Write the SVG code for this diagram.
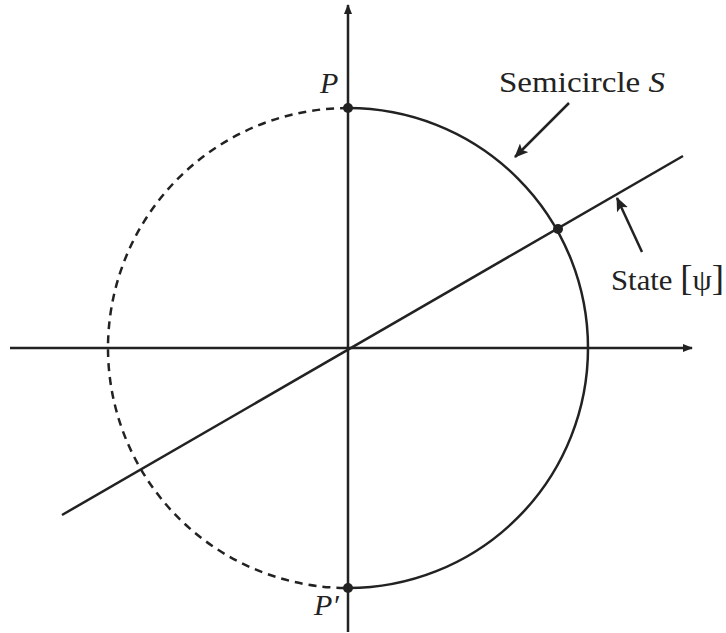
<svg xmlns="http://www.w3.org/2000/svg" width="726" height="633" viewBox="0 0 726 633">
<style>
.ln{stroke:#222;stroke-width:2.5;fill:none}
.ds{stroke:#222;stroke-width:2.5;fill:none;stroke-dasharray:8 6}
.t{font-family:"Liberation Serif",serif;font-size:30px;fill:#222}
.i{font-style:italic}
.dot{fill:#222}
</style>
<defs>
<marker id="ah" markerWidth="10" markerHeight="10" refX="9" refY="5" orient="auto" markerUnits="userSpaceOnUse" viewBox="0 0 10 10">
<path d="M0,1 L10,5 L0,9 Z" fill="#222"/>
</marker>
<marker id="ah2" markerWidth="14" markerHeight="12" refX="13" refY="6" orient="auto" markerUnits="userSpaceOnUse" viewBox="0 0 14 12">
<path d="M0,0 L14,6 L0,12 L3,6 Z" fill="#222"/>
</marker>
</defs>
<g id="connectors">
<line class="ln" x1="348" y1="632" x2="348" y2="5" marker-end="url(#ah)"/>
<line class="ln" x1="10" y1="348" x2="692" y2="348" marker-end="url(#ah)"/>
<line class="ln" x1="62" y1="515" x2="683" y2="156"/>
<line class="ln" x1="569" y1="103" x2="515" y2="157" marker-end="url(#ah2)"/>
<line class="ln" x1="642" y1="252" x2="617" y2="198" marker-end="url(#ah2)"/>
</g>
<g id="semicircle">
<path class="ln" d="M348,108 A240,240 0 0 1 348,588"/>
</g>
<g id="dashed-half">
<path class="ds" d="M348,108 A240,240 0 0 0 348,588"/>
</g>
<g id="P">
<circle class="dot" cx="348" cy="108" r="5"/>
<text class="t i" x="320" y="93">P</text>
</g>
<g id="Pprime">
<circle class="dot" cx="348" cy="588" r="5"/>
<text class="t i" x="314" y="615">P′</text>
</g>
<g id="intersection">
<circle class="dot" cx="558" cy="229" r="5"/>
</g>
<g id="label-semicircle">
<text class="t" x="499" y="92" font-size="32" textLength="166" lengthAdjust="spacingAndGlyphs">Semicircle <tspan class="i">S</tspan></text>
</g>
<g id="label-state">
<text class="t" x="611" y="290" textLength="113" lengthAdjust="spacingAndGlyphs">State <tspan font-size="36">[</tspan>ψ<tspan font-size="36">]</tspan></text>
</g>
</svg>
